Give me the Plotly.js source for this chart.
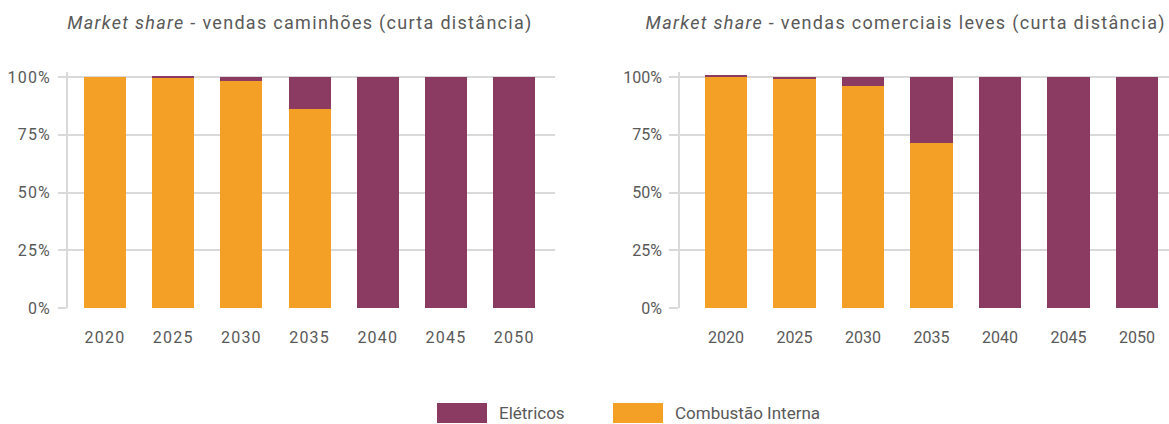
<!DOCTYPE html>
<html>
<head>
<meta charset="utf-8">
<script src="https://cdn.plot.ly/plotly-3.0.1.min.js"></script>
<style>
html,body{margin:0;padding:0;background:#fff;}
#chart{width:1169px;height:424px;}
.annotation[data-index="0"] text,.annotation[data-index="1"] text{letter-spacing:1.3px;}
.xtick text,.ytick text{letter-spacing:1.2px;}
</style>
</head>
<body>
<div id="chart"></div>
<script>
// Data
const years = ['2020', '2025', '2030', '2035', '2040', '2045', '2050'];
const caminhoesCombustao = [100, 99.8, 98.3, 86.0, 0, 0, 0];
const caminhoesEletricos = [0, 0.8, 1.7, 14.0, 100, 100, 100];
const levesCombustao = [100, 99.3, 96.0, 71.6, 0, 0, 0];
const levesEletricos = [0.8, 0.7, 4.0, 28.4, 100, 100, 100];
const yTicks = [0, 25, 50, 75, 100];
const yTickLabels = ['0%', '25%', '50%', '75%', '100%'];

const W = 1169, H = 424;
const ORANGE = '#F4A026';
const PURPLE = '#8B3A62';
const TXT = '#595959';
const GRID = '#D9D9D9';
const FONT = 'Roboto, Arial, sans-serif';

const idx = years.map((_, i) => i);

const traces = [
  {type: 'bar', x: idx, y: caminhoesCombustao, name: 'Combustão Interna', marker: {color: ORANGE}, xaxis: 'x', yaxis: 'y', hovertemplate: '%{y}%<extra>Combustão Interna</extra>'},
  {type: 'bar', x: idx, y: caminhoesEletricos, name: 'Elétricos', marker: {color: PURPLE}, xaxis: 'x', yaxis: 'y', hovertemplate: '%{y}%<extra>Elétricos</extra>'},
  {type: 'bar', x: idx, y: levesCombustao, name: 'Combustão Interna', marker: {color: ORANGE}, xaxis: 'x2', yaxis: 'y2', hovertemplate: '%{y}%<extra>Combustão Interna</extra>'},
  {type: 'bar', x: idx, y: levesEletricos, name: 'Elétricos', marker: {color: PURPLE}, xaxis: 'x2', yaxis: 'y2', hovertemplate: '%{y}%<extra>Elétricos</extra>'}
];

const yDomain = [(H - 308) / H, (H - 72.4) / H];

function xAxis(domain, range) {
  return {
    domain: domain, range: range, type: 'linear',
    tickvals: idx, ticktext: years,
    showgrid: false, zeroline: false, showline: false, ticks: '',
    ticklabelstandoff: 18,
    tickfont: {family: FONT, size: 16, color: TXT},
    automargin: false, fixedrange: true
  };
}
function yAxis(anchor, ticklen) {
  return {
    domain: yDomain, range: [0, 102], anchor: anchor,
    tickvals: yTicks, ticktext: yTickLabels,
    showgrid: true, gridcolor: GRID, gridwidth: 1.5,
    zeroline: false, showline: true, linecolor: GRID, linewidth: 1.5,
    ticks: 'outside', ticklen: ticklen, tickcolor: GRID, tickwidth: 1.5,
    ticklabelstandoff: 4,
    tickfont: {family: FONT, size: 16, color: TXT},
    automargin: false, fixedrange: true
  };
}

const layout = {
  width: W, height: H,
  margin: {l: 0, r: 0, t: 0, b: 0},
  paper_bgcolor: '#fff', plot_bgcolor: '#fff',
  barmode: 'stack', bargap: 0.384,
  showlegend: false,
  font: {family: FONT, color: TXT},
  xaxis: xAxis([68 / W, 555 / W], [(68 - 105) / 68.2, (555 - 105) / 68.2]),
  yaxis: yAxis('x', 8),
  xaxis2: xAxis([680 / W, 1], [(680 - 726) / 68.5, (1169 - 726) / 68.5]),
  yaxis2: yAxis('x2', 9),
  annotations: [
    {xref: 'paper', yref: 'paper', x: 300 / W, y: (H - 23) / H, text: '<i>Market share</i> - vendas caminhões (curta distância)', showarrow: false, xanchor: 'center', yanchor: 'middle', font: {family: FONT, size: 18, color: TXT}},
    {xref: 'paper', yref: 'paper', x: 905 / W, y: (H - 23) / H, text: '<i>Market share</i> - vendas comerciais leves (curta distância)', showarrow: false, xanchor: 'center', yanchor: 'middle', font: {family: FONT, size: 18, color: TXT}},
    {xref: 'paper', yref: 'paper', x: 497 / W, y: (H - 413) / H, text: 'Elétricos', showarrow: false, xanchor: 'left', yanchor: 'middle', font: {family: FONT, size: 17, color: TXT}},
    {xref: 'paper', yref: 'paper', x: 673 / W, y: (H - 413) / H, text: 'Combustão Interna', showarrow: false, xanchor: 'left', yanchor: 'middle', font: {family: FONT, size: 17, color: TXT}}
  ],
  shapes: [
    {type: 'rect', xref: 'paper', yref: 'paper', x0: 437 / W, x1: 487 / W, y0: 1 / H, y1: 21 / H, fillcolor: PURPLE, line: {width: 0}},
    {type: 'rect', xref: 'paper', yref: 'paper', x0: 613 / W, x1: 663 / W, y0: 1 / H, y1: 21 / H, fillcolor: ORANGE, line: {width: 0}}
  ]
};

Plotly.newPlot('chart', traces, layout, {displayModeBar: false});
</script>
</body>
</html>
